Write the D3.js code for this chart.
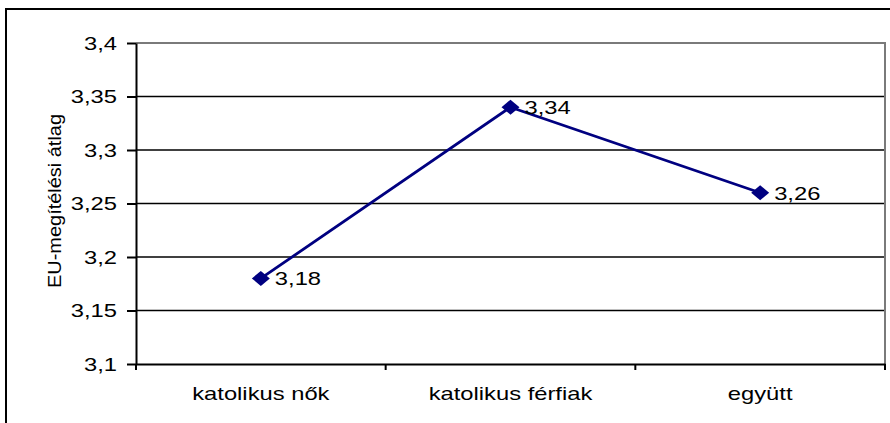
<!DOCTYPE html>
<html>
<head>
<meta charset="utf-8">
<script src="https://cdn.jsdelivr.net/npm/d3@7"></script>
<style>
  body { margin: 0; background: #fff; }
  svg { display: block; font-family: "Liberation Sans", Arial, sans-serif; }
  .grid-line { stroke: #000; stroke-width: 1.6; }
  .axis path, .axis line { stroke: #000; stroke-width: 2; }
  .axis text { fill: #000; }
</style>
</head>
<body>
<svg id="chart" width="890" height="423"></svg>
<script>
var categories = ["katolikus nők", "katolikus férfiak", "együtt"];
var values = [3.18, 3.34, 3.26];
var yTicks = [3.1, 3.15, 3.2, 3.25, 3.3, 3.35, 3.4];
var yLabel = "EU-megítélési átlag";

// the original picture is stretched sideways, so text is too
var stretch = 1.25;
var fontSize = 19;

var huLocale = d3.formatLocale({decimal: ",", thousands: " ", grouping: [3], currency: ["", ""]});
var tickFmt = huLocale.format(".2~f");
var labelFmt = huLocale.format(".2f");

var plot = {left: 136, right: 885, top: 43, bottom: 364};

var svg = d3.select("#chart");

// outer frame, cut off at right and bottom
svg.append("rect")
    .attr("x", 6).attr("y", 9)
    .attr("width", 900).attr("height", 430)
    .attr("fill", "none")
    .attr("stroke", "#000")
    .attr("stroke-width", 2);

var x = d3.scaleBand().domain(categories).range([plot.left, plot.right]);
var y = d3.scaleLinear().domain([3.1, 3.4]).range([plot.bottom, plot.top]);

// Gridlines
svg.selectAll(".grid-line")
    .data(yTicks.slice(1, -1))
    .enter()
    .append("line")
        .attr("class", "grid-line")
        .attr("x1", plot.left)
        .attr("x2", plot.right)
        .attr("y1", function(d) { return y(d) })
        .attr("y2", function(d) { return y(d) });

// plot area border top / right (grey)
svg.append("path")
    .attr("d", "M" + plot.left + "," + plot.top + "H" + plot.right + "V" + plot.bottom)
    .attr("fill", "none")
    .attr("stroke", "#7a7a7a")
    .attr("stroke-width", 2);

// Y axis
var yAxis = svg.append("g")
    .attr("class", "axis")
    .attr("transform", "translate(" + plot.left + ",0)")
    .call(d3.axisLeft(y).tickValues(yTicks).tickFormat(tickFmt).tickSize(9).tickSizeOuter(0));
yAxis.selectAll("text")
    .attr("font-size", fontSize)
    .attr("x", -19 / stretch)
    .attr("transform", "scale(" + stretch + ",1)");

// X axis: ticks sit at the category borders
var xAxis = svg.append("g")
    .attr("class", "axis")
    .attr("transform", "translate(0," + plot.bottom + ")")
    .call(d3.axisBottom(x).tickSize(0).tickSizeOuter(0).tickFormat(""));
xAxis.selectAll(".border-tick")
    .data(categories.concat(["end"]))
    .enter()
    .append("line")
        .attr("class", "border-tick")
        .attr("x1", function(d, i) { return i < categories.length ? x(d) : plot.right })
        .attr("x2", function(d, i) { return i < categories.length ? x(d) : plot.right })
        .attr("y1", 0)
        .attr("y2", 6);

// Category labels
svg.selectAll(".cat-label")
    .data(categories)
    .enter()
    .append("text")
        .attr("class", "cat-label")
        .attr("text-anchor", "middle")
        .attr("font-size", fontSize)
        .attr("transform", function(d) { return "translate(" + (x(d) + x.bandwidth() / 2) + ",400) scale(" + stretch + ",1)" })
        .text(function(d) { return d });

// Y axis title
svg.append("text")
    .attr("text-anchor", "middle")
    .attr("font-size", 19)
    .attr("transform", "translate(61,201) rotate(-90) scale(1.05,1)")
    .text(yLabel);

// Line
var points = categories.map(function(c, i) { return {cat: c, value: values[i]} });

svg.append("path")
    .datum(points)
    .attr("fill", "none")
    .attr("stroke", "#000080")
    .attr("stroke-width", 2.8)
    .attr("d", d3.line()
        .x(function(d) { return x(d.cat) + x.bandwidth() / 2 })
        .y(function(d) { return y(d.value) }));

// Diamond markers
svg.selectAll(".marker")
    .data(points)
    .enter()
    .append("path")
        .attr("class", "marker")
        .attr("fill", "#000080")
        .attr("d", "M0,-7.5L9,0L0,7.5L-9,0Z")
        .attr("transform", function(d) { return "translate(" + (x(d.cat) + x.bandwidth() / 2) + "," + y(d.value) + ")" });

// Data labels
svg.selectAll(".data-label")
    .data(points)
    .enter()
    .append("text")
        .attr("class", "data-label")
        .attr("font-size", fontSize)
        .attr("dy", "0.36em")
        .attr("transform", function(d) { return "translate(" + (x(d.cat) + x.bandwidth() / 2 + 14) + "," + y(d.value) + ") scale(" + stretch + ",1)" })
        .text(function(d) { return labelFmt(d.value) });
</script>
</body>
</html>
